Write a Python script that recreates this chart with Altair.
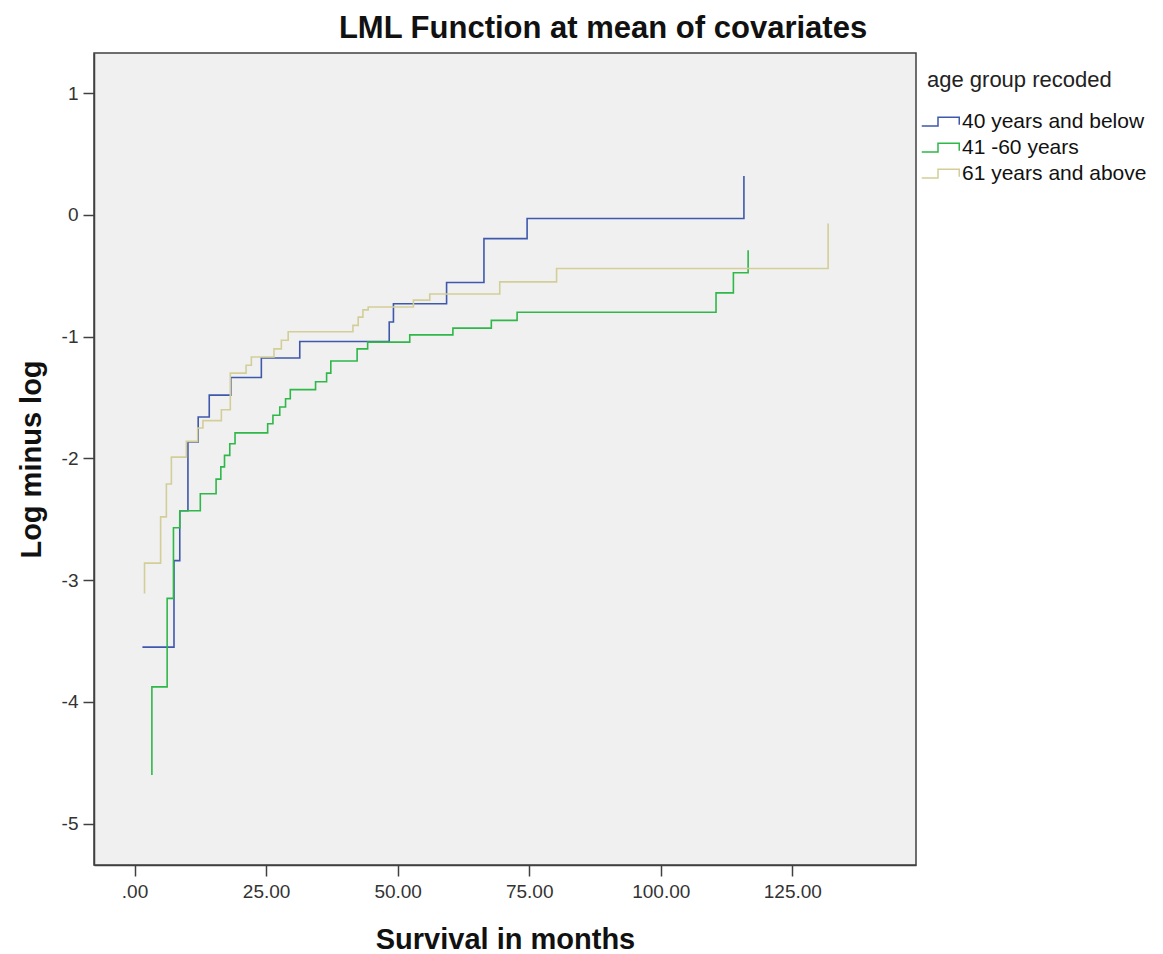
import altair as alt
import pandas as pd

groups = ["40 years and below", "41 -60 years", "61 years and above"]
colors = ["#3E58AC", "#2EB848", "#D3CE97"]

blue_t = [1.5, 7.5, 8.6, 10.15, 12.1, 14.2, 18.3, 24.1, 31.4, 48.4, 49.2, 59.3, 66.4, 74.6, 115.8]
blue_v = [-3.55, -2.84, -2.43, -1.865, -1.66, -1.48, -1.335, -1.175, -1.04, -0.88, -0.73, -0.555, -0.195, -0.03, 0.32]

green_t = [3.3, 3.3, 6.2, 7.4, 8.6, 12.5, 15.5, 16.4, 17.1, 18.1, 19.1, 25.3, 26.3, 27.6, 28.7, 29.6,
           34.4, 36.5, 37.3, 42.3, 44.3, 52.3, 60.5, 67.8, 72.7, 110.5, 113.8, 116.6]
green_v = [-4.60, -3.877, -3.15, -2.57, -2.43, -2.29, -2.17, -2.07, -1.975, -1.88, -1.79, -1.715, -1.646,
           -1.578, -1.51, -1.435, -1.37, -1.30, -1.20, -1.10, -1.045, -0.985, -0.93, -0.866, -0.80,
           -0.64, -0.475, -0.29]

beige_t = [1.9, 1.9, 4.96, 6.05, 7.0, 9.85, 12.0, 13.0, 16.5, 18.2, 21.2, 22.2, 26.5, 27.9, 29.2,
           41.5, 42.5, 43.4, 44.4, 53.0, 56.1, 69.4, 80.2, 131.8]
beige_v = [-3.11, -2.86, -2.48, -2.21, -1.99, -1.86, -1.75, -1.69, -1.60, -1.30, -1.235, -1.167, -1.10,
           -1.03, -0.96, -0.907, -0.84, -0.78, -0.757, -0.70, -0.65, -0.55, -0.44, -0.07]

x_ticks = [0, 25, 50, 75, 100, 125]
y_ticks = [-5, -4, -3, -2, -1, 0, 1]

rows = []
for g, ts, vs in zip(groups, [blue_t, green_t, beige_t], [blue_v, green_v, beige_v]):
    for i, (t, v) in enumerate(zip(ts, vs)):
        rows.append({"group": g, "t": t, "v": v, "idx": i})
df = pd.DataFrame(rows)

FONT = "Liberation Sans"
step_symbol = "M-1.5,0.35 L-0.2,0.35 L-0.2,-0.35 L1.5,-0.35 L1.5,0.25"

chart = alt.Chart(df).mark_line(interpolate="step-after", strokeWidth=1.6, clip=True).encode(
    x=alt.X("t:Q",
            scale=alt.Scale(domain=[-7.7, 148.5], nice=False, zero=False),
            axis=alt.Axis(values=x_ticks,
                          labelExpr="datum.value == 0 ? '.00' : format(datum.value, '.2f')",
                          tickSize=11, labelPadding=6, titlePadding=24,
                          labelFontSize=19, titleFontSize=29),
            title="Survival in months"),
    y=alt.Y("v:Q",
            scale=alt.Scale(domain=[-5.34, 1.33], nice=False, zero=False),
            axis=alt.Axis(values=y_ticks, labelExpr="'' + datum.value",
                          tickSize=11, labelPadding=5, titlePadding=15,
                          labelFontSize=19, titleFontSize=29),
            title="Log minus log"),
    color=alt.Color("group:N",
                    scale=alt.Scale(domain=groups, range=colors),
                    legend=alt.Legend(title="age group recoded", orient="none",
                                      legendX=833, legendY=17,
                                      symbolType=step_symbol, symbolSize=625,
                                      symbolStrokeWidth=1.5, symbolFillColor="transparent",
                                      labelOffset=8, rowPadding=2, padding=0, labelLimit=400,
                                      titlePadding=16, titleFontSize=22, titleFontWeight="normal",
                                      titleLimit=400,
                                      labelFontSize=21, titleColor="#222", labelColor="#111")),
    order=alt.Order("idx:Q"),
).properties(
    width=822, height=812,
    padding={"left": 94, "top": 53, "right": 247, "bottom": 89},
    autosize="none",
    title=alt.TitleParams("LML Function at mean of covariates", fontSize=31, fontWeight="bold",
                          font=FONT, color="#111", anchor="middle", frame="group", dx=98, offset=8),
).configure(
    background="white",
    font=FONT,
).configure_view(
    fill="#F0F0F0", stroke="#404040", strokeWidth=1.5,
).configure_axis(
    grid=False, domainColor="#404040", tickColor="#404040", domainWidth=1.5, tickWidth=1.5,
    labelColor="#333", titleColor="#111", titleFontWeight="bold", labelFont=FONT, titleFont=FONT,
).configure_legend(
    labelFont=FONT, titleFont=FONT,
)

chart.save("out.html", embed_options={"renderer": "svg", "actions": False})
